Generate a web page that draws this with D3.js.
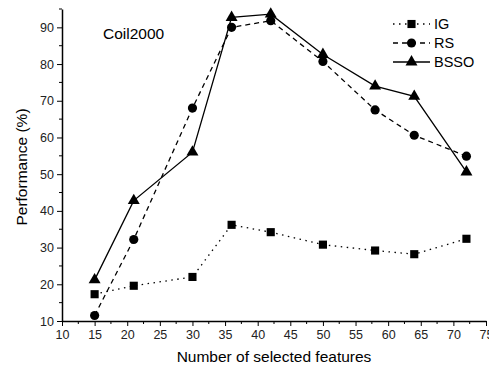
<!DOCTYPE html>
<html>
<head>
<meta charset="utf-8">
<script src="https://cdn.jsdelivr.net/npm/d3@7"></script>
<style>
  body { margin: 0; background: #fff; }
  svg { font-family: "Liberation Sans", Arial, sans-serif; }
</style>
</head>
<body>
<svg id="chart" width="489" height="369"></svg>
<script>
// data
const features = [15, 21, 30, 36, 42, 50, 58, 64, 72];
const igValues = [17.3, 19.6, 22.0, 36.2, 34.2, 30.8, 29.2, 28.2, 32.4];
const rsValues = [11.5, 32.2, 68.0, 90.0, 91.8, 80.7, 67.5, 60.6, 54.9];
const bssoValues = [21.2, 42.8, 56.0, 92.7, 93.6, 82.6, 74.0, 71.2, 50.6];
const xTicks = [10, 15, 20, 25, 30, 35, 40, 45, 50, 55, 60, 65, 70, 75];
const yTicks = [10, 20, 30, 40, 50, 60, 70, 80, 90];

const series = [
    { name: "IG", values: igValues, symbol: d3.symbolSquare, size: 66, dash: "1.5,4.5" },
    { name: "RS", values: rsValues, symbol: d3.symbolCircle, size: 66, dash: "5,4" },
    { name: "BSSO", values: bssoValues, symbol: d3.symbolTriangle, size: 62, dash: null }
];

const svg = d3.select("#chart");

const x = d3.scaleLinear().domain([10, 75]).range([62, 486]);
const y = d3.scaleLinear().domain([10, 95]).range([321, 9]);

// x axis
const xAxisG = svg.append("g").attr("transform", "translate(0," + y(10) + ")");
xAxisG.call(d3.axisBottom(x).tickValues(xTicks).tickSize(5).tickSizeOuter(0).tickPadding(4));
xAxisG.append("g")
    .selectAll("line")
    .data(d3.range(12.5, 75, 5))
    .join("line")
    .attr("x1", d => x(d)).attr("x2", d => x(d))
    .attr("y1", 0).attr("y2", 3)
    .attr("stroke", "#000");

// y axis
const yAxisG = svg.append("g").attr("transform", "translate(" + x(10) + ",0)");
yAxisG.call(d3.axisLeft(y).tickValues(yTicks).tickSize(5).tickSizeOuter(0).tickPadding(3));
yAxisG.append("g")
    .selectAll("line")
    .data(d3.range(15, 96, 10))
    .join("line")
    .attr("y1", d => y(d)).attr("y2", d => y(d))
    .attr("x1", 0).attr("x2", -3)
    .attr("stroke", "#000");

svg.selectAll(".domain").attr("stroke-width", 1.5);
svg.selectAll(".tick text").attr("font-size", 12.5).attr("fill", "#222");

// axis titles
svg.append("text")
    .attr("x", 274).attr("y", 362)
    .attr("text-anchor", "middle")
    .attr("font-size", 15.5)
    .text("Number of selected features");

svg.append("text")
    .attr("transform", "translate(27," + 167 + ") rotate(-90)")
    .attr("text-anchor", "middle")
    .attr("font-size", 15.5)
    .text("Performance (%)");

svg.append("text")
    .attr("x", 103).attr("y", 39)
    .attr("font-size", 15.5)
    .text("Coil2000");

// lines and markers
const line = d3.line()
    .x((d, i) => x(features[i]))
    .y(d => y(d));

series.forEach(s => {
    svg.append("path")
        .datum(s.values)
        .attr("fill", "none")
        .attr("stroke", "#000")
        .attr("stroke-width", 1.3)
        .attr("stroke-dasharray", s.dash)
        .attr("d", line);

    svg.append("g")
        .selectAll("path")
        .data(s.values)
        .join("path")
        .attr("d", d3.symbol().type(s.symbol).size(s.size)())
        .attr("transform", (d, i) => "translate(" + x(features[i]) + "," + y(d) + ")")
        .attr("fill", "#000");
});

// legend
const legend = svg.append("g").attr("font-size", 14.5);
series.forEach((s, i) => {
    const ly = 24 + i * 19;
    legend.append("line")
        .attr("x1", 393).attr("x2", 430)
        .attr("y1", ly).attr("y2", ly)
        .attr("stroke", "#000")
        .attr("stroke-width", 1.3)
        .attr("stroke-dasharray", s.dash);
    legend.append("path")
        .attr("d", d3.symbol().type(s.symbol).size(s.size)())
        .attr("transform", "translate(411.5," + ly + ")");
    legend.append("text")
        .attr("x", 434).attr("y", ly)
        .attr("dy", "0.35em")
        .text(s.name);
});
</script>
</body>
</html>
